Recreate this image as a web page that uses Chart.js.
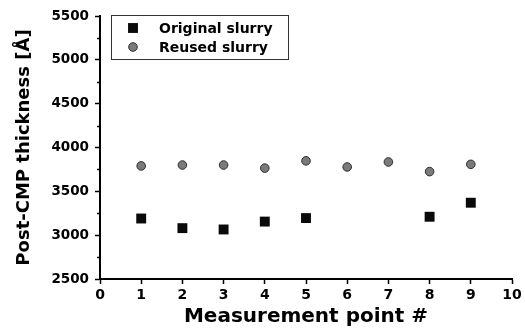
<!DOCTYPE html>
<html>
<head>
<meta charset="utf-8">
<script src="https://cdn.jsdelivr.net/npm/chart.js@4.4.1/dist/chart.umd.min.js"></script>
<style>
  html, body { margin: 0; padding: 0; background: #fff; }
  #wrap { width: 525px; height: 332px; }
</style>
</head>
<body>
<div id="wrap"><canvas id="grafico" width="525" height="332"></canvas></div>
<script>
var pontosOriginal = [1, 2, 3, 4, 5, 8, 9];
var espessuraOriginal = [3190, 3080, 3065, 3155, 3195, 3210, 3370];
var pontosReusado = [1, 2, 3, 4, 5, 6, 7, 8, 9];
var espessuraReusado = [3790, 3800, 3800, 3765, 3848, 3778, 3835, 3725, 3808];
var rotulos = ['Original slurry', 'Reused slurry'];

var fonte = 'DejaVu Sans';

function pares(xs, ys) {
    return xs.map(function (x, i) { return { x: x, y: ys[i] }; });
}

// ticks menores no eixo y (a cada 250)
var ticksMenores = {
    id: 'ticksMenores',
    afterDraw: function (chart) {
        var ctx = chart.ctx;
        var y = chart.scales.y;
        ctx.save();
        ctx.strokeStyle = '#000';
        ctx.lineWidth = 1.5;
        for (var v = y.min + 250; v < y.max; v += 500) {
            var py = Math.round(y.getPixelForValue(v)) + 0.5;
            ctx.beginPath();
            ctx.moveTo(y.right - 3, py);
            ctx.lineTo(y.right, py);
            ctx.stroke();
        }
        ctx.restore();
    }
};

// legenda com moldura, como no original
var legenda = {
    id: 'legenda',
    afterDraw: function (chart) {
        var ctx = chart.ctx;
        var area = chart.chartArea;
        var x0 = area.left + 11, y0 = area.top - 1;
        ctx.save();
        ctx.fillStyle = '#fff';
        ctx.fillRect(x0, y0, 177, 44);
        ctx.strokeStyle = '#333';
        ctx.lineWidth = 1;
        ctx.strokeRect(x0 + 0.5, y0 + 0.5, 177, 44);
        ctx.font = 'bold 14px "' + fonte + '"';
        ctx.textBaseline = 'middle';
        chart.data.datasets.forEach(function (ds, i) {
            var cy = y0 + 13 + i * 19;
            var cx = x0 + 22;
            ctx.fillStyle = ds.backgroundColor;
            ctx.strokeStyle = ds.borderColor;
            ctx.lineWidth = ds.borderWidth;
            ctx.beginPath();
            if (ds.pointStyle === 'rect') {
                var s = ds.pointRadius * Math.SQRT1_2;
                ctx.rect(cx - s, cy - s, 2 * s, 2 * s);
            } else {
                ctx.arc(cx, cy, ds.pointRadius, 0, Math.PI * 2);
            }
            ctx.fill();
            if (ds.borderWidth) ctx.stroke();
            ctx.fillStyle = '#000';
            ctx.fillText(ds.label, x0 + 48, cy + 1);
        });
        ctx.restore();
    }
};

var ctx = document.getElementById('grafico');

new Chart(ctx, {
    type: 'scatter',
    data: {
        datasets: [{
            label: rotulos[0],
            data: pares(pontosOriginal, espessuraOriginal),
            pointStyle: 'rect',
            pointRadius: 7,
            backgroundColor: '#0a0a0a',
            borderColor: '#0a0a0a',
            borderWidth: 0
        }, {
            label: rotulos[1],
            data: pares(pontosReusado, espessuraReusado),
            pointStyle: 'circle',
            pointRadius: 4.3,
            backgroundColor: '#7a7a7a',
            borderColor: '#2e2e2e',
            borderWidth: 1
        }]
    },
    options: {
        responsive: false,
        animation: false,
        layout: { padding: { left: 0, right: 13, top: 16, bottom: 0 } },
        plugins: {
            legend: { display: false },
            tooltip: { enabled: false }
        },
        scales: {
            x: {
                type: 'linear',
                min: 0,
                max: 10,
                afterFit: function (s) { s.height = 53; },
                border: { color: '#000', width: 2 },
                grid: { drawOnChartArea: false, drawTicks: true, tickLength: 5, tickColor: '#000', tickWidth: 1.5 },
                ticks: { stepSize: 1, color: '#000', padding: 3, font: { family: fonte, weight: 'bold', size: 14 } },
                title: { display: true, text: 'Measurement point #', color: '#000', padding: { top: 0, bottom: 3 }, font: { family: fonte, weight: 'bold', size: 20 } }
            },
            y: {
                min: 2500,
                max: 5500,
                afterFit: function (s) { s.width = 100; },
                border: { color: '#000', width: 2 },
                grid: { drawOnChartArea: false, drawTicks: true, tickLength: 5, tickColor: '#000', tickWidth: 1.5 },
                ticks: {
                    stepSize: 500, color: '#000', padding: 6,
                    font: { family: fonte, weight: 'bold', size: 13.5 },
                    callback: function (v) { return String(v); }
                },
                title: { display: true, text: 'Post-CMP thickness [Å]', color: '#000', padding: { top: 14, bottom: 0 }, font: { family: fonte, weight: 'bold', size: 18 } }
            }
        }
    },
    plugins: [ticksMenores, legenda]
});
</script>
</body>
</html>
